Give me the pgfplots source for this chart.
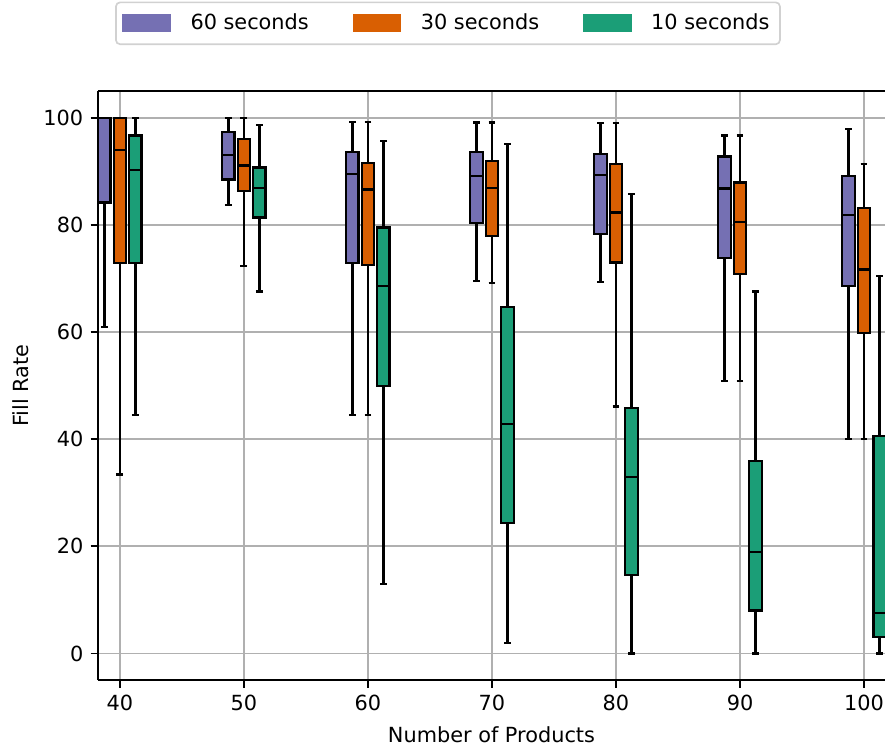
\documentclass[border=0pt]{standalone}
\usepackage{fontspec}
\setmainfont{DejaVu Sans}
\usepackage{pgfplots}
\pgfplotsset{compat=1.18}
\usepgfplotslibrary{statistics}
\definecolor{c60}{HTML}{7570B3}
\definecolor{c30}{HTML}{D95F02}
\definecolor{c10}{HTML}{1B9E77}
\newcommand{\bp}[7]{\addplot[boxplot prepared={draw position=#2, lower whisker=#3, lower quartile=#4, median=#5, upper quartile=#6, upper whisker=#7}, fill=#1, draw=black, line width=1.1pt, forget plot] coordinates {};}
\begin{document}
\begin{tikzpicture}
\begin{axis}[
  scale only axis,
  width=377.8pt, height=282.8pt,
  xmin=38.23, xmax=101.69, ymin=-5, ymax=105,
  axis x line*=box, axis y line*=left,
  xtick pos=bottom, ytick pos=left,
  xtick={40,50,...,100}, ytick={0,20,...,100},
  tick align=outside, major tick length=3.5pt,
  tick style={black, line width=0.8pt},
  axis line style={black, line width=0.8pt},
  grid=major, grid style={color=black!31, line width=0.8pt},
  /pgf/number format/assume math mode=true,
  xlabel={Number of Products}, ylabel={Fill Rate},
  xlabel style={yshift=-1pt}, ylabel style={yshift=0pt},
  boxplot/draw direction=y,
  boxplot/box extend=1.0,
  boxplot/whisker extend=0.55,
  boxplot/every median/.style={black, line width=1.1pt},
  legend columns=3,
  legend style={at={(0.4447,1.078)}, anchor=south, draw=black!18, rounded corners=2pt, line width=0.8pt,
    /tikz/every even column/.append style={column sep=19pt}, inner xsep=3pt, inner ysep=3.5pt},
]
\coordinate (sw) at (rel axis cs:0,0);
\coordinate (ne) at (rel axis cs:1,1);
\addlegendimage{legend image code/.code={\fill[c60, sharp corners] (0pt,-4pt) rectangle (22.6pt,4pt); \path (30pt,0pt);}}
\addlegendentry{60 seconds}
\addlegendimage{legend image code/.code={\fill[c30, sharp corners] (0pt,-4pt) rectangle (22.6pt,4pt); \path (30pt,0pt);}}
\addlegendentry{30 seconds}
\addlegendimage{legend image code/.code={\fill[c10, sharp corners] (0pt,-4pt) rectangle (22.6pt,4pt); \path (30pt,0pt);}}
\addlegendentry{10 seconds}
% group 40
\bp{c60}{38.75}{60.9}{84.2}{100}{100}{100}
\bp{c30}{40}{33.4}{72.9}{94.0}{100}{100}
\bp{c10}{41.25}{44.5}{72.9}{90.2}{96.7}{100}
% group 50
\bp{c60}{48.75}{83.7}{88.5}{93.1}{97.4}{100}
\bp{c30}{50}{72.4}{86.4}{91.1}{96.0}{100}
\bp{c10}{51.25}{67.6}{81.4}{86.9}{90.7}{98.6}
% group 60
\bp{c60}{58.75}{44.5}{72.9}{89.5}{93.6}{99.2}
\bp{c30}{60}{44.5}{72.5}{86.6}{91.6}{99.2}
\bp{c10}{61.25}{12.9}{49.9}{68.6}{79.5}{95.7}
% group 70
\bp{c60}{68.75}{69.5}{80.3}{89.2}{93.6}{99.1}
\bp{c30}{70}{69.2}{77.9}{86.9}{91.9}{99.1}
\bp{c10}{71.25}{2.0}{24.4}{42.9}{64.7}{95.1}
% group 80
\bp{c60}{78.75}{69.4}{78.3}{89.3}{93.3}{99.0}
\bp{c30}{80}{46.1}{73.0}{82.3}{91.4}{99.0}
\bp{c10}{81.25}{0}{14.6}{32.9}{45.8}{85.8}
% group 90
\bp{c60}{88.75}{50.8}{73.8}{86.8}{92.8}{96.7}
\bp{c30}{90}{50.8}{70.9}{80.6}{87.9}{96.7}
\bp{c10}{91.25}{0}{8.0}{18.9}{35.9}{67.6}
% group 100
\bp{c60}{98.75}{40.0}{68.6}{81.9}{89.1}{97.9}
\bp{c30}{100}{40.0}{59.8}{71.7}{83.1}{91.4}
\bp{c10}{101.25}{0}{3.1}{7.6}{40.6}{70.5}
\end{axis}
\pgfresetboundingbox
\path ([shift={(-47pt,-32.2pt)}]sw) rectangle ([shift={(0pt,43.7pt)}]ne);
\end{tikzpicture}
\end{document}
